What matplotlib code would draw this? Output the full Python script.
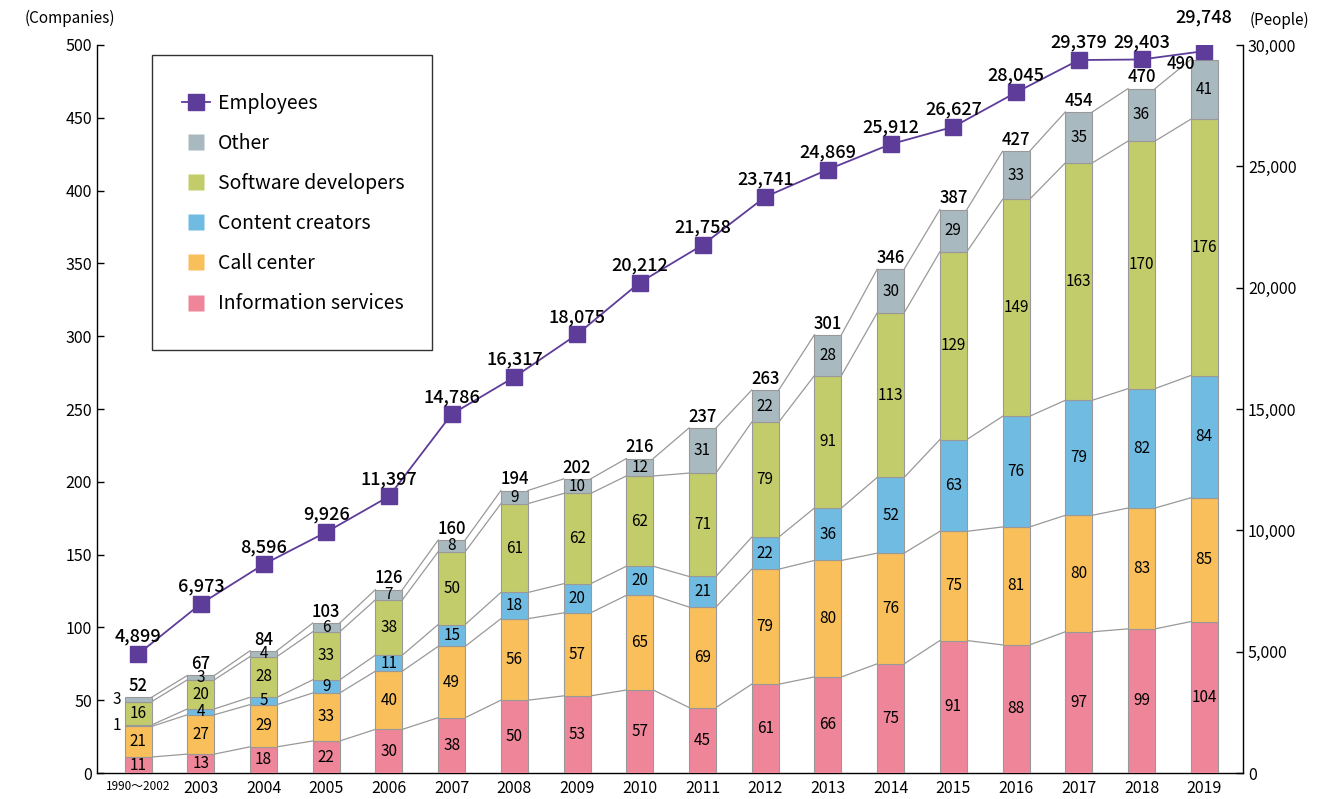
import matplotlib
matplotlib.use("Agg")
import matplotlib.pyplot as plt
import numpy as np
from matplotlib.lines import Line2D
from matplotlib.patches import Rectangle

plt.rcParams['font.family'] = ['Noto Sans CJK JP', 'DejaVu Sans']

years = ["1990～2002", "2003", "2004", "2005", "2006", "2007", "2008", "2009", "2010",
         "2011", "2012", "2013", "2014", "2015", "2016", "2017", "2018", "2019"]
info_services = [11, 13, 18, 22, 30, 38, 50, 53, 57, 45, 61, 66, 75, 91, 88, 97, 99, 104]
call_center = [21, 27, 29, 33, 40, 49, 56, 57, 65, 69, 79, 80, 76, 75, 81, 80, 83, 85]
content_creators = [1, 4, 5, 9, 11, 15, 18, 20, 20, 21, 22, 36, 52, 63, 76, 79, 82, 84]
software_devs = [16, 20, 28, 33, 38, 50, 61, 62, 62, 71, 79, 91, 113, 129, 149, 163, 170, 176]
other = [3, 3, 4, 6, 7, 8, 9, 10, 12, 31, 22, 28, 30, 29, 33, 35, 36, 41]
employees = [4899, 6973, 8596, 9926, 11397, 14786, 16317, 18075, 20212, 21758,
             23741, 24869, 25912, 26627, 28045, 29379, 29403, 29748]

series = [("Information services", info_services, "#EE8599"),
          ("Call center", call_center, "#F9BF5A"),
          ("Content creators", content_creators, "#70BBE1"),
          ("Software developers", software_devs, "#C3CC6B"),
          ("Other", other, "#A8B9BF")]
purple = "#5E3C99"

fig = plt.figure(figsize=(13.42, 7.99), dpi=100)
ax = fig.add_axes([0.0723, 0.0325, 0.8540, 0.9112])
ax2 = ax.twinx()

x = np.arange(len(years))
w = 0.43
bottom = np.zeros(len(years))
tops = []
for name, vals, col in series:
    v = np.array(vals, dtype=float)
    ax.bar(x, v, w, bottom=bottom, color=col, edgecolor="#999999", linewidth=0.8, zorder=3)
    for i in range(len(x)):
        cy = bottom[i] + v[i] / 2
        if i == 0 and v[i] < 5:
            ax.text(x[i] - w / 2 - 0.05, cy, f"{vals[i]}", ha="right", va="center", fontsize=11, zorder=5)
        else:
            ax.text(x[i], cy, f"{vals[i]}", ha="center", va="center", fontsize=11, zorder=5)
    bottom = bottom + v
    tops.append(bottom.copy())

# connector lines
for t in tops:
    for i in range(len(x) - 1):
        ax.plot([x[i] + w / 2, x[i + 1] - w / 2], [t[i], t[i + 1]], color="#999999", lw=0.9, zorder=2)

totals = tops[-1]
for i in range(len(x)):
    if i == len(x) - 1:
        ax.text(x[i] - 0.37, totals[i] - 3, f"{int(totals[i])}", ha="center", va="center",
                fontsize=12, fontweight="medium", zorder=5)
    else:
        ax.text(x[i], totals[i] + 1.5, f"{int(totals[i])}", ha="center", va="bottom",
                fontsize=12, fontweight="medium", zorder=5)

ax.set_xlim(-0.655, 17.62)
ax.set_ylim(0, 500)
ax.set_yticks(range(0, 501, 50))
ax.set_xticks(x)
ax.set_xticklabels(years)
for lbl in ax.get_xticklabels():
    lbl.set_fontsize(11.5)
ax.get_xticklabels()[0].set_fontsize(8.5)
ax.tick_params(axis="x", length=0, pad=5)
ax.tick_params(axis="y", direction="in", length=5, labelsize=11.5, width=1)
for s in ["top", "right"]:
    ax.spines[s].set_visible(False)
ax.spines["left"].set_linewidth(1)
ax.spines["bottom"].set_linewidth(1)

ax2.plot(x, employees, color=purple, lw=1.3, marker="s", markersize=11.5, zorder=6)
for i in range(len(x)):
    off = 1030 if i == len(x) - 1 else 340
    ax2.text(x[i], employees[i] + off, f"{employees[i]:,}", ha="center", va="bottom",
             fontsize=13, fontweight="medium", zorder=7)
ax2.set_ylim(0, 30000)
ax2.set_yticks(range(0, 30001, 5000))
ax2.set_yticklabels([f"{v:,}" for v in range(0, 30001, 5000)])
ax2.tick_params(axis="y", direction="in", length=5, labelsize=11.5, width=1)
for s in ["top", "left", "bottom"]:
    ax2.spines[s].set_visible(False)
ax2.spines["right"].set_linewidth(1)
ax.set_zorder(1)
ax2.set_zorder(2)
ax2.patch.set_visible(False)

fig.text(0.0186, 0.977, "(Companies)", fontsize=11, ha="left", va="center")
fig.text(0.931, 0.975, "(People)", fontsize=11, ha="left", va="center")

# legend
frame = Rectangle((0.048, 0.581), 0.2443, 0.4053, transform=ax2.transAxes,
                  facecolor="white", edgecolor="#333333", lw=1, zorder=8)
ax2.add_patch(frame)
handles = [Line2D([0], [0], color=purple, marker="s", markersize=12, lw=1.3)]
labels = ["Employees"]
for name, vals, col in reversed(series):
    handles.append(Line2D([0], [0], color="none", marker="s", markersize=12,
                          markerfacecolor=col, markeredgecolor="none"))
    labels.append(name)
leg = ax2.legend(handles, labels, loc="upper left", bbox_to_anchor=(0.0742, 0.934),
                 fontsize=14, frameon=False, borderpad=0, labelspacing=0.98,
                 handlelength=1.45, handletextpad=0.4, borderaxespad=0)
leg.set_zorder(9)

fig.savefig("out.png", dpi=100)
